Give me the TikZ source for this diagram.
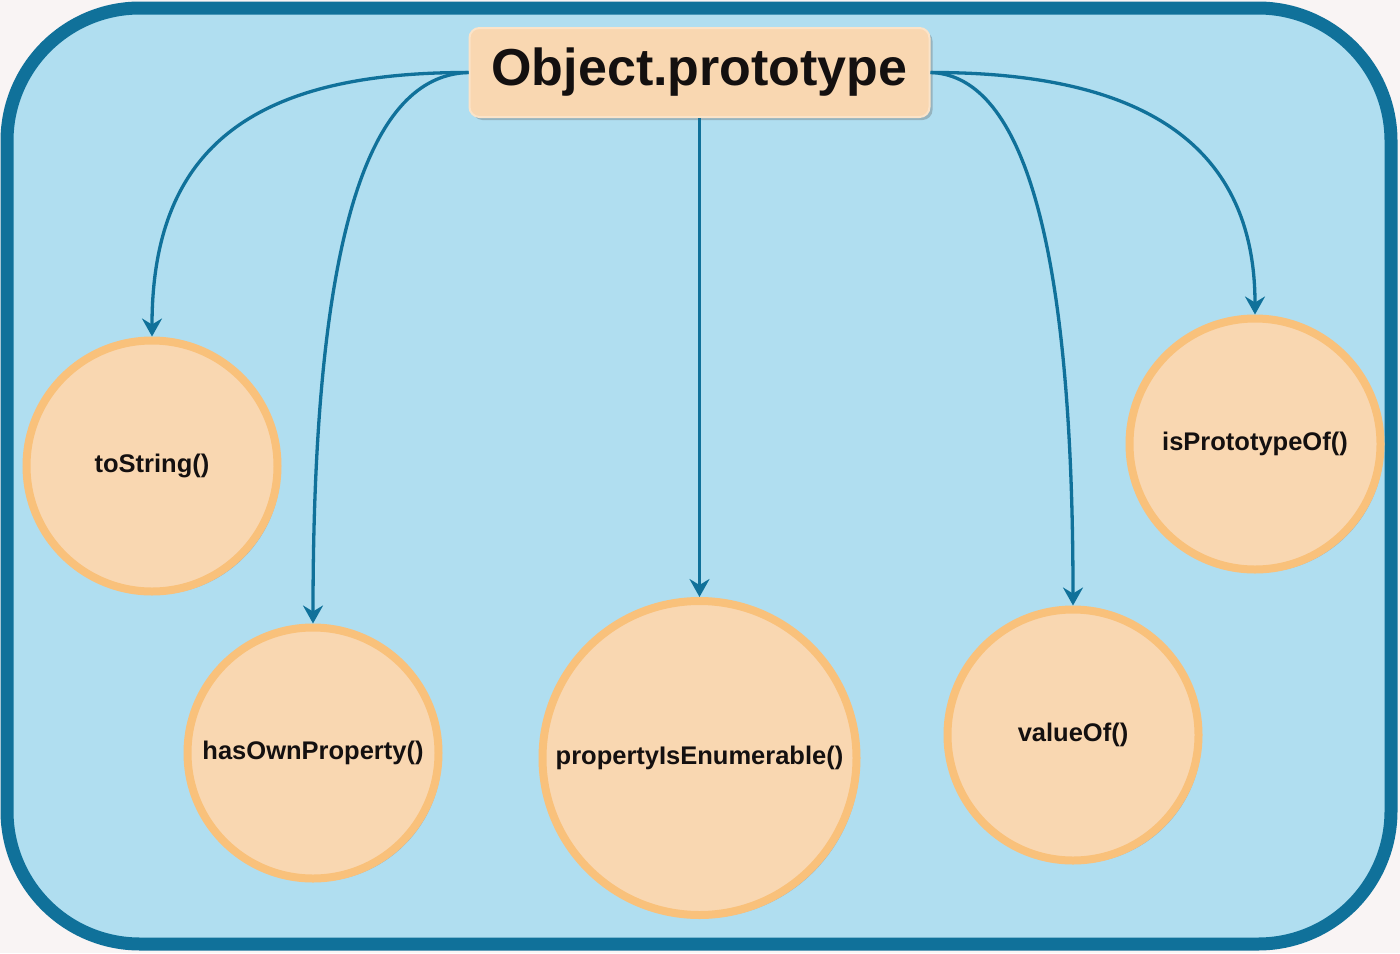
\documentclass[tikz,border=0pt]{standalone}
\usepackage{fontspec}
\setmainfont{Liberation Sans}
\usetikzlibrary{shadows,arrows.meta}
\definecolor{bgc}{HTML}{F9F4F4}
\definecolor{framec}{HTML}{10719A}
\definecolor{framefill}{HTML}{B0DEF0}
\definecolor{peach}{HTML}{F9D7B1}
\definecolor{orangeb}{HTML}{F9C17B}
\definecolor{boxborder}{HTML}{FBE3C8}
\definecolor{txt}{HTML}{141010}
\tikzset{
  method/.style={circle, draw=orangeb, line width=8pt, fill=peach, inner sep=0pt,
    minimum size=251pt, font=\fontsize{25.5}{30}\selectfont\bfseries, text=txt,
    drop shadow={shadow xshift=3pt, shadow yshift=-3pt, opacity=0.35, fill=black!60}},
  bigmethod/.style={method, minimum size=314pt},
  protobox/.style={rectangle, rounded corners=10pt, draw=boxborder, line width=2pt, fill=peach,
    minimum width=460pt, minimum height=89pt, inner sep=0pt,
    font=\fontsize{52}{60}\selectfont\bfseries, text=txt,
    drop shadow={shadow xshift=3pt, shadow yshift=-3pt, opacity=0.35, fill=black!60}},
  link/.style={draw=framec, line width=3.3pt, -{Stealth[length=18pt,width=20pt,inset=6pt]}}
}
\begin{document}
\begin{tikzpicture}[x=1pt,y=-1pt]
\useasboundingbox (0,0) rectangle (1400,953);
\fill[bgc] (0,0) rectangle (1400,953);
\draw[framec, line width=13pt, fill=framefill, rounded corners=133pt] (7,8) rectangle (1391,944);

\node[protobox] (op) at (699.5,72.5) {Object.prototype};

\node[method] (ts) at (152,466) {toString()};
\node[method] (hop) at (313,753) {hasOwnProperty()};
\node[bigmethod] (pie) at (699.5,758) {propertyIsEnumerable()};
\node[method] (vo) at (1073,735) {valueOf()};
\node[method] (ipo) at (1255,444) {isPrototypeOf()};

\draw[link] (op.west) .. controls (250,72) and (152,150) .. (ts.north);
\draw[link] (op.west) .. controls (380,75) and (313,200) .. (hop.north);
\draw[link] (op.south) -- (pie.north);
\draw[link] (op.east) .. controls (1010,75) and (1073,200) .. (vo.north);
\draw[link] (op.east) .. controls (1150,72) and (1255,150) .. (ipo.north);
\end{tikzpicture}
\end{document}
